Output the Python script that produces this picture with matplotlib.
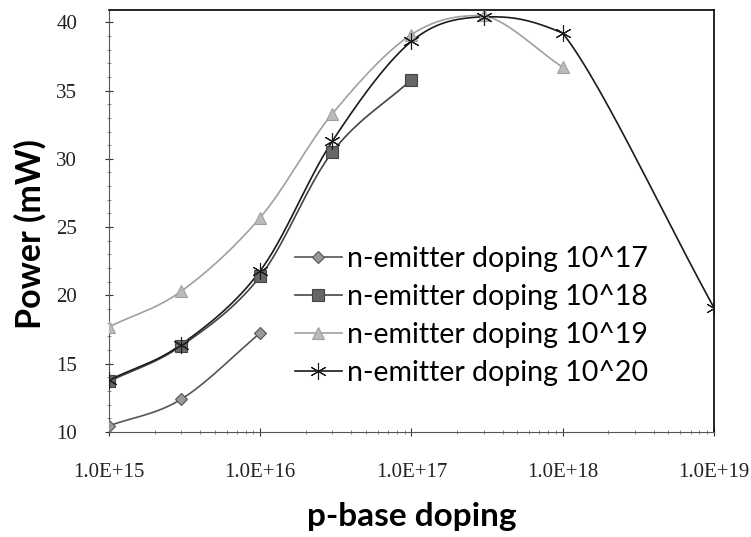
import numpy as np
import matplotlib
matplotlib.use("Agg")
import matplotlib.pyplot as plt
from matplotlib.ticker import FixedLocator, LogLocator, NullFormatter, MultipleLocator

# p-base doping (cm^-3) and output power (mW)
x_doping = [1e15, 3e15, 1e16, 3e16, 1e17, 3e17, 1e18, 1e19]
power_e17 = [10.45, 12.4, 17.25]
power_e18 = [13.7, 16.3, 21.4, 30.5, 35.8]
power_e19 = [17.7, 20.3, 25.7, 33.3, 39.1, 40.5, 36.7]
power_e20 = [13.8, 16.4, 21.8, 31.3, 38.6, 40.4, 39.2, 19.1]
labels = ["n-emitter doping 10^17", "n-emitter doping 10^18",
          "n-emitter doping 10^19", "n-emitter doping 10^20"]
x_ticks = [1e15, 1e16, 1e17, 1e18, 1e19]
x_tick_labels = ["1.0E+15", "1.0E+16", "1.0E+17", "1.0E+18", "1.0E+19"]
y_ticks = [10, 15, 20, 25, 30, 35, 40]


def smooth(xs, ys, n=30):
    # Excel-like smoothed line: bezier through the points in log-x space,
    # control points clamped so the curve does not overshoot
    lx = np.log10(xs)
    ys = np.asarray(ys, float)
    px = np.concatenate([[2 * lx[0] - lx[1]], lx, [2 * lx[-1] - lx[-2]]])
    py = np.concatenate([[2 * ys[0] - ys[1]], ys, [2 * ys[-1] - ys[-2]]])
    ox, oy = [], []
    t = np.linspace(0, 1, n)
    for i in range(1, len(px) - 2):
        p0, p1, p2, p3 = [np.array([px[j], py[j]]) for j in range(i - 1, i + 3)]
        c1 = p1 + (p2 - p0) / 6
        c2 = p2 - (p3 - p1) / 6
        lo, hi = min(p1[1], p2[1]), max(p1[1], p2[1])
        if (p1[1] - p0[1]) * (p2[1] - p1[1]) <= 0 or not lo <= c1[1] <= hi:
            c1[1] = np.clip(c1[1], lo, hi)
        if (p2[1] - p1[1]) * (p3[1] - p2[1]) <= 0 or not lo <= c2[1] <= hi:
            c2[1] = np.clip(c2[1], lo, hi)
        b = ((1 - t) ** 3)[:, None] * p1 + (3 * (1 - t) ** 2 * t)[:, None] * c1 \
            + (3 * (1 - t) * t ** 2)[:, None] * c2 + (t ** 3)[:, None] * p2
        ox.extend(b[:, 0]); oy.extend(b[:, 1])
    return 10 ** np.array(ox), np.array(oy)


plt.rcParams["font.family"] = ["Lato", "DejaVu Sans"]
fig = plt.figure(figsize=(7.51, 5.37), dpi=100)
ax = fig.add_axes([0.1451, 0.1955, 0.8056, 0.786])

series = [
    (power_e17, "#555555", "D", 6.5, "#999999", labels[0]),
    (power_e18, "#444444", "s", 9, "#666666", labels[1]),
    (power_e19, "#a0a0a0", "^", 8, "#bbbbbb", labels[2]),
    (power_e20, "#1a1a1a", (6, 2, 0), 12, "#1a1a1a", labels[3]),
]
for ys, col, mk, ms, mfc, lab in series:
    xs = x_doping[:len(ys)]
    sx, sy = smooth(xs, ys)
    ax.plot(sx, sy, color=col, lw=1.2, zorder=2)
    ax.plot(xs, ys, linestyle="none", marker=mk, markersize=ms, color=mfc,
            markeredgecolor=col, markeredgewidth=0.8, zorder=3)
    ax.plot([], [], color=col, lw=1.2, marker=mk, markersize=ms, markerfacecolor=mfc,
            markeredgecolor=col, markeredgewidth=0.8, label=lab)

ax.set_xscale("log")
ax.set_xlim(1e15, 1e19)
ax.set_ylim(10, 40.9)
ax.xaxis.set_major_locator(FixedLocator(x_ticks))
ax.set_xticklabels(x_tick_labels)
ax.xaxis.set_minor_locator(LogLocator(base=10, subs=np.arange(2, 10)))
ax.xaxis.set_minor_formatter(NullFormatter())
ax.yaxis.set_major_locator(FixedLocator(y_ticks))
ax.yaxis.set_minor_locator(MultipleLocator(1))

ax.tick_params(axis="both", which="major", direction="inout", length=6, width=0.8,
               labelsize=15, colors="#333333")
ax.tick_params(axis="x", which="major", pad=19)
ax.tick_params(axis="y", which="major", pad=20)
ax.tick_params(axis="both", which="minor", direction="inout", length=3, width=0.6,
               colors="#777777")
for lab in ax.get_xticklabels() + ax.get_yticklabels():
    lab.set_family(["Liberation Serif", "DejaVu Serif"])
    lab.set_color("#222222")
for side in ["left", "bottom"]:
    ax.spines[side].set_linestyle((0, (1, 1)))
    ax.spines[side].set_color("#555555")
for side in ["top", "right"]:
    ax.spines[side].set_color("black")
    ax.spines[side].set_linewidth(1.2)

ax.set_xlabel("p-base doping", fontsize=24, fontweight="bold", labelpad=15)
ax.set_ylabel("Power (mW)", fontsize=24.5, fontweight="bold", labelpad=7, y=0.47)

ax.legend(loc="upper left", bbox_to_anchor=(0.307, 0.44), frameon=False, fontsize=20.5,
          handlelength=1.65, handletextpad=0.2, labelspacing=0.42,
          borderpad=0, borderaxespad=0)

fig.savefig("out.png", dpi=100)
